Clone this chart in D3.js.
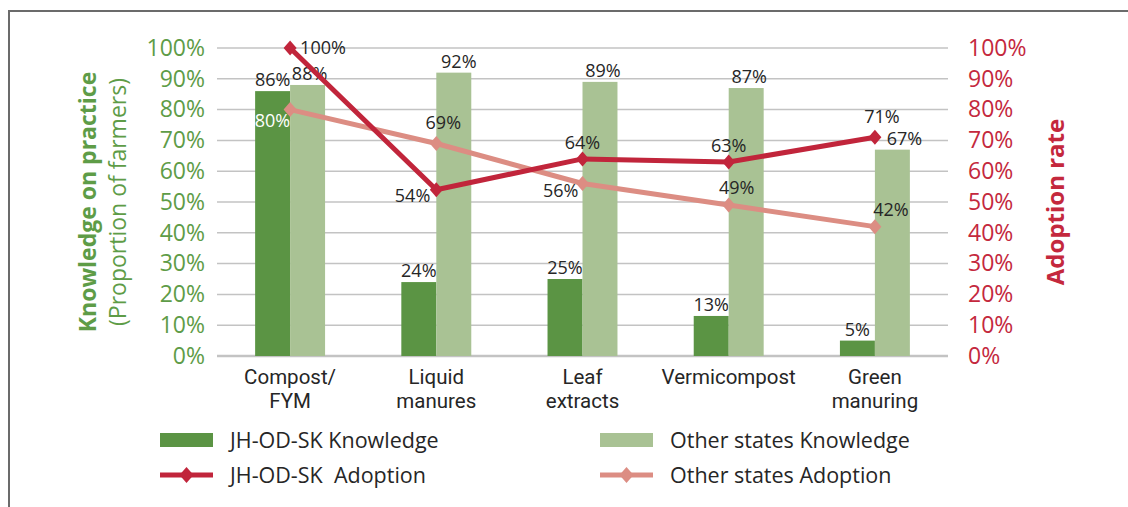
<!DOCTYPE html>
<html>
<head>
<meta charset="utf-8">
<script src="https://cdn.jsdelivr.net/npm/d3@7"></script>
<style>
  html, body { margin: 0; padding: 0; background: #fff; }
  svg { display: block; font-family: "Open Sans", "Noto Sans", sans-serif; }
</style>
</head>
<body>
<svg id="chart" width="1128" height="507"></svg>
<script>
// Practices compared
const categories = [["Compost/", "FYM"], ["Liquid", "manures"], ["Leaf", "extracts"], ["Vermicompost"], ["Green", "manuring"]];

// Knowledge of each practice (share of farmers, %)
const jhKnowledge    = [86, 24, 25, 13, 5];
const otherKnowledge = [88, 92, 89, 87, 67];

// Adoption rate of each practice (%)
const jhAdoption    = [100, 54, 64, 63, 71];
const otherAdoption = [80, 69, 56, 49, 42];

// Tick values for both percentage axes
const tickValues = [0, 10, 20, 30, 40, 50, 60, 70, 80, 90, 100];

const colors = {
  jhBar: "#5b9444",
  otherBar: "#a9c294",
  jhLine: "#c1253b",
  otherLine: "#dc8d83",
  leftAxis: "#5e9c47",
  rightAxis: "#c4283d",
  grid: "#c3c3c3",
  text: "#262626"
};

const svg = d3.select("#chart");
const plot = { left: 217, right: 948, top: 48, bottom: 356 };

const idx = categories.map((_, i) => i);
const x = d3.scaleBand().domain(idx).range([plot.left, plot.right]).paddingInner(0).paddingOuter(0);
const x1 = d3.scaleBand().domain(["jh", "other"]).range([0, x.bandwidth()]).paddingInner(0).paddingOuter(1.09);
const yLeft = d3.scaleLinear().domain([0, 100]).range([plot.bottom, plot.top]);
const yRight = d3.scaleLinear().domain([0, 100]).range([plot.bottom, plot.top]);
const cx = i => x(i) + x.bandwidth() / 2;

// Frame around the figure
svg.append("path")
  .attr("d", `M9,507 L9,11 L1128,11`)
  .attr("fill", "none").attr("stroke", "#6b6b6b").attr("stroke-width", 2);

// Gridlines
svg.append("g")
  .selectAll("line")
  .data(tickValues)
  .join("line")
  .attr("x1", plot.left).attr("x2", plot.right)
  .attr("y1", d => yLeft(d)).attr("y2", d => yLeft(d))
  .attr("stroke", colors.grid)
  .attr("stroke-width", d => d === 0 ? 2.5 : 1.5);

// Left axis
const leftAxis = svg.append("g")
  .attr("transform", `translate(${plot.left - 12},0)`)
  .call(d3.axisLeft(yLeft).tickValues(tickValues).tickFormat(d => d + "%").tickSize(0).tickPadding(0));
leftAxis.select(".domain").remove();
leftAxis.selectAll("text")
  .attr("fill", colors.leftAxis)
  .attr("font-size", 23)
  .attr("font-family", "'Open Sans', sans-serif");

// Right axis
const rightAxis = svg.append("g")
  .attr("transform", `translate(${plot.right + 20},0)`)
  .call(d3.axisRight(yRight).tickValues(tickValues).tickFormat(d => d + "%").tickSize(0).tickPadding(0));
rightAxis.select(".domain").remove();
rightAxis.selectAll("text")
  .attr("fill", colors.rightAxis)
  .attr("font-size", 23)
  .attr("font-family", "'Open Sans', sans-serif");

// Axis titles
const midY = (plot.top + plot.bottom) / 2;
svg.append("text")
  .attr("transform", `translate(96,${midY}) rotate(-90)`)
  .attr("text-anchor", "middle")
  .attr("fill", colors.leftAxis)
  .attr("font-size", 23).attr("font-weight", 700)
  .text("Knowledge on practice");
svg.append("text")
  .attr("transform", `translate(126,${midY}) rotate(-90)`)
  .attr("text-anchor", "middle")
  .attr("fill", colors.leftAxis)
  .attr("font-size", 23)
  .text("(Proportion of farmers)");
svg.append("text")
  .attr("transform", `translate(1064,${midY}) rotate(-90)`)
  .attr("text-anchor", "middle")
  .attr("fill", colors.rightAxis)
  .attr("font-size", 24).attr("font-weight", 700)
  .text("Adoption rate");

// Category labels, one text per line
const catG = svg.append("g");
categories.forEach((lines, i) => {
  lines.forEach((ln, j) => {
    catG.append("text")
      .attr("x", cx(i)).attr("y", 384 + j * 24)
      .attr("text-anchor", "middle")
      .attr("fill", colors.text)
      .attr("font-family", "Roboto, 'Open Sans', sans-serif")
      .attr("font-size", 20.5)
      .text(ln);
  });
});

// Bars
const barSeries = [
  { key: "jh", values: jhKnowledge, color: colors.jhBar, labelDx: [0, 0, 0, 0, 0] },
  { key: "other", values: otherKnowledge, color: colors.otherBar, labelDx: [2, 5, 3, 3, 12] }
];
barSeries.forEach(s => {
  const g = svg.append("g");
  g.selectAll("rect")
    .data(s.values)
    .join("rect")
    .attr("x", (d, i) => x(i) + x1(s.key))
    .attr("width", x1.bandwidth())
    .attr("y", d => yLeft(d))
    .attr("height", d => yLeft(0) - yLeft(d))
    .attr("fill", s.color);
  g.selectAll("text")
    .data(s.values)
    .join("text")
    .attr("x", (d, i) => x(i) + x1(s.key) + x1.bandwidth() / 2 + s.labelDx[i])
    .attr("y", d => yLeft(d) - 5)
    .attr("text-anchor", "middle")
    .attr("fill", colors.text)
    .attr("font-size", 18)
    .text(d => d + "%");
});

// Adoption lines with diamond markers
const diamond = "M0,-7.5L6.5,0L0,7.5L-6.5,0Z";
// label placement per point: [dx, dy, anchor, colour override]
const jhLabelPos = [[10, 6, "start"], [-6, 12, "end"], [0, -10, "middle"], [0, -10, "middle"], [7, -14, "middle"]];
const otherLabelPos = [[0, 17, "end", "#ffffff"], [7, -14, "middle"], [-4, 13, "end"], [8, -11, "middle"], [16, -11, "middle"]];

const lineSeries = [
  { values: otherAdoption, color: colors.otherLine, labels: otherLabelPos },
  { values: jhAdoption, color: colors.jhLine, labels: jhLabelPos }
];
const lineGen = d3.line().x((d, i) => cx(i)).y(d => yRight(d));
lineSeries.forEach(s => {
  const g = svg.append("g");
  g.append("path")
    .datum(s.values)
    .attr("d", lineGen)
    .attr("fill", "none")
    .attr("stroke", s.color)
    .attr("stroke-width", 5)
    .attr("stroke-linejoin", "round");
  g.selectAll("path.mk")
    .data(s.values)
    .join("path")
    .attr("class", "mk")
    .attr("d", diamond)
    .attr("transform", (d, i) => `translate(${cx(i)},${yRight(d)})`)
    .attr("fill", s.color);
});
lineSeries.forEach(s => {
  svg.append("g").selectAll("text")
    .data(s.values)
    .join("text")
    .attr("x", (d, i) => cx(i) + s.labels[i][0])
    .attr("y", (d, i) => yRight(d) + s.labels[i][1])
    .attr("text-anchor", (d, i) => s.labels[i][2])
    .attr("fill", (d, i) => s.labels[i][3] || colors.text)
    .attr("font-size", 18)
    .text(d => d + "%");
});

// Legend
const legendItems = [
  { label: "JH-OD-SK Knowledge", type: "bar", color: colors.jhBar, x: 160, y: 440 },
  { label: "Other states Knowledge", type: "bar", color: colors.otherBar, x: 600, y: 440 },
  { label: "JH-OD-SK  Adoption", type: "line", color: colors.jhLine, x: 160, y: 475 },
  { label: "Other states Adoption", type: "line", color: colors.otherLine, x: 600, y: 475 }
];
const lg = svg.append("g");
legendItems.forEach(it => {
  if (it.type === "bar") {
    lg.append("rect").attr("x", it.x).attr("y", it.y - 7).attr("width", 53).attr("height", 14).attr("fill", it.color);
  } else {
    lg.append("line").attr("x1", it.x).attr("x2", it.x + 53).attr("y1", it.y).attr("y2", it.y)
      .attr("stroke", it.color).attr("stroke-width", 5);
    lg.append("path").attr("d", "M0,-8L7,0L0,8L-7,0Z").attr("transform", `translate(${it.x + 26.5},${it.y})`).attr("fill", it.color);
  }
  lg.append("text")
    .attr("x", it.x + 70).attr("y", it.y + 8)
    .attr("fill", colors.text)
    .attr("font-size", 21.5)
    .style("white-space", "pre")
    .attr("xml:space", "preserve")
    .text(it.label);
});
</script>
</body>
</html>
